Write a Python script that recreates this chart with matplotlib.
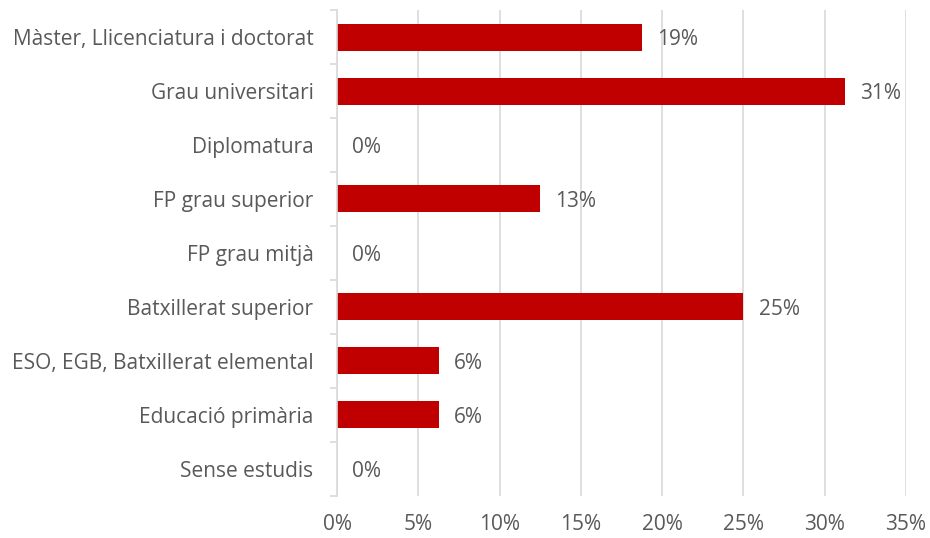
import matplotlib
matplotlib.use("Agg")
import matplotlib.pyplot as plt
import numpy as np
from matplotlib.ticker import FuncFormatter

categories = ["Màster, Llicenciatura i doctorat", "Grau universitari", "Diplomatura",
              "FP grau superior", "FP grau mitjà", "Batxillerat superior",
              "ESO, EGB, Batxillerat elemental", "Educació primària", "Sense estudis"]
values = [18.75, 31.25, 0.0, 12.5, 0.0, 25.0, 6.25, 6.25, 0.0]
labels = ["19%", "31%", "0%", "13%", "0%", "25%", "6%", "6%", "0%"]
xticks = [0, 5, 10, 15, 20, 25, 30, 35]

RED, TXT, GRID = "#C00000", "#595959", "#D9D9D9"
FS = 15
plt.rcParams.update({"font.family": ["Open Sans", "DejaVu Sans"], "font.size": FS})

fig = plt.figure(figsize=(9.3, 5.38), dpi=100)
ax = fig.add_axes([0.3624, 0.0781, 0.6118, 0.9033])

y = np.arange(len(categories))
ax.barh(y, values, height=0.5, color=RED, zorder=3)
for yi, v, lab in zip(y, values, labels):
    ax.annotate(lab, (v, yi), xytext=(11, -2), textcoords="offset points",
                va="center", ha="left", color=TXT, fontsize=FS)

ax.set_ylim(len(categories) - 0.5, -0.5)
ax.set_xlim(0, 35)
ax.set_xticks(xticks)
ax.xaxis.set_major_formatter(FuncFormatter(lambda v, _: f"{v:.0f}%"))
ax.grid(axis="x", color=GRID, lw=1.2, zorder=0)

ax.set_yticks(y)
ax.set_yticklabels(categories)
ax.set_yticks(np.arange(len(categories) + 1) - 0.5, minor=True)
ax.tick_params(axis="y", which="major", length=0, pad=17, colors=TXT, labelsize=FS)
ax.tick_params(axis="y", which="minor", length=5, color=GRID, width=1.2)
ax.tick_params(axis="x", length=0, pad=13, colors=TXT, labelsize=FS)

for s in ("top", "right", "bottom"):
    ax.spines[s].set_visible(False)
ax.spines["left"].set_color(GRID)
ax.spines["left"].set_linewidth(1.2)
ax.spines["left"].set_zorder(4)

fig.savefig("out.png", dpi=100)
